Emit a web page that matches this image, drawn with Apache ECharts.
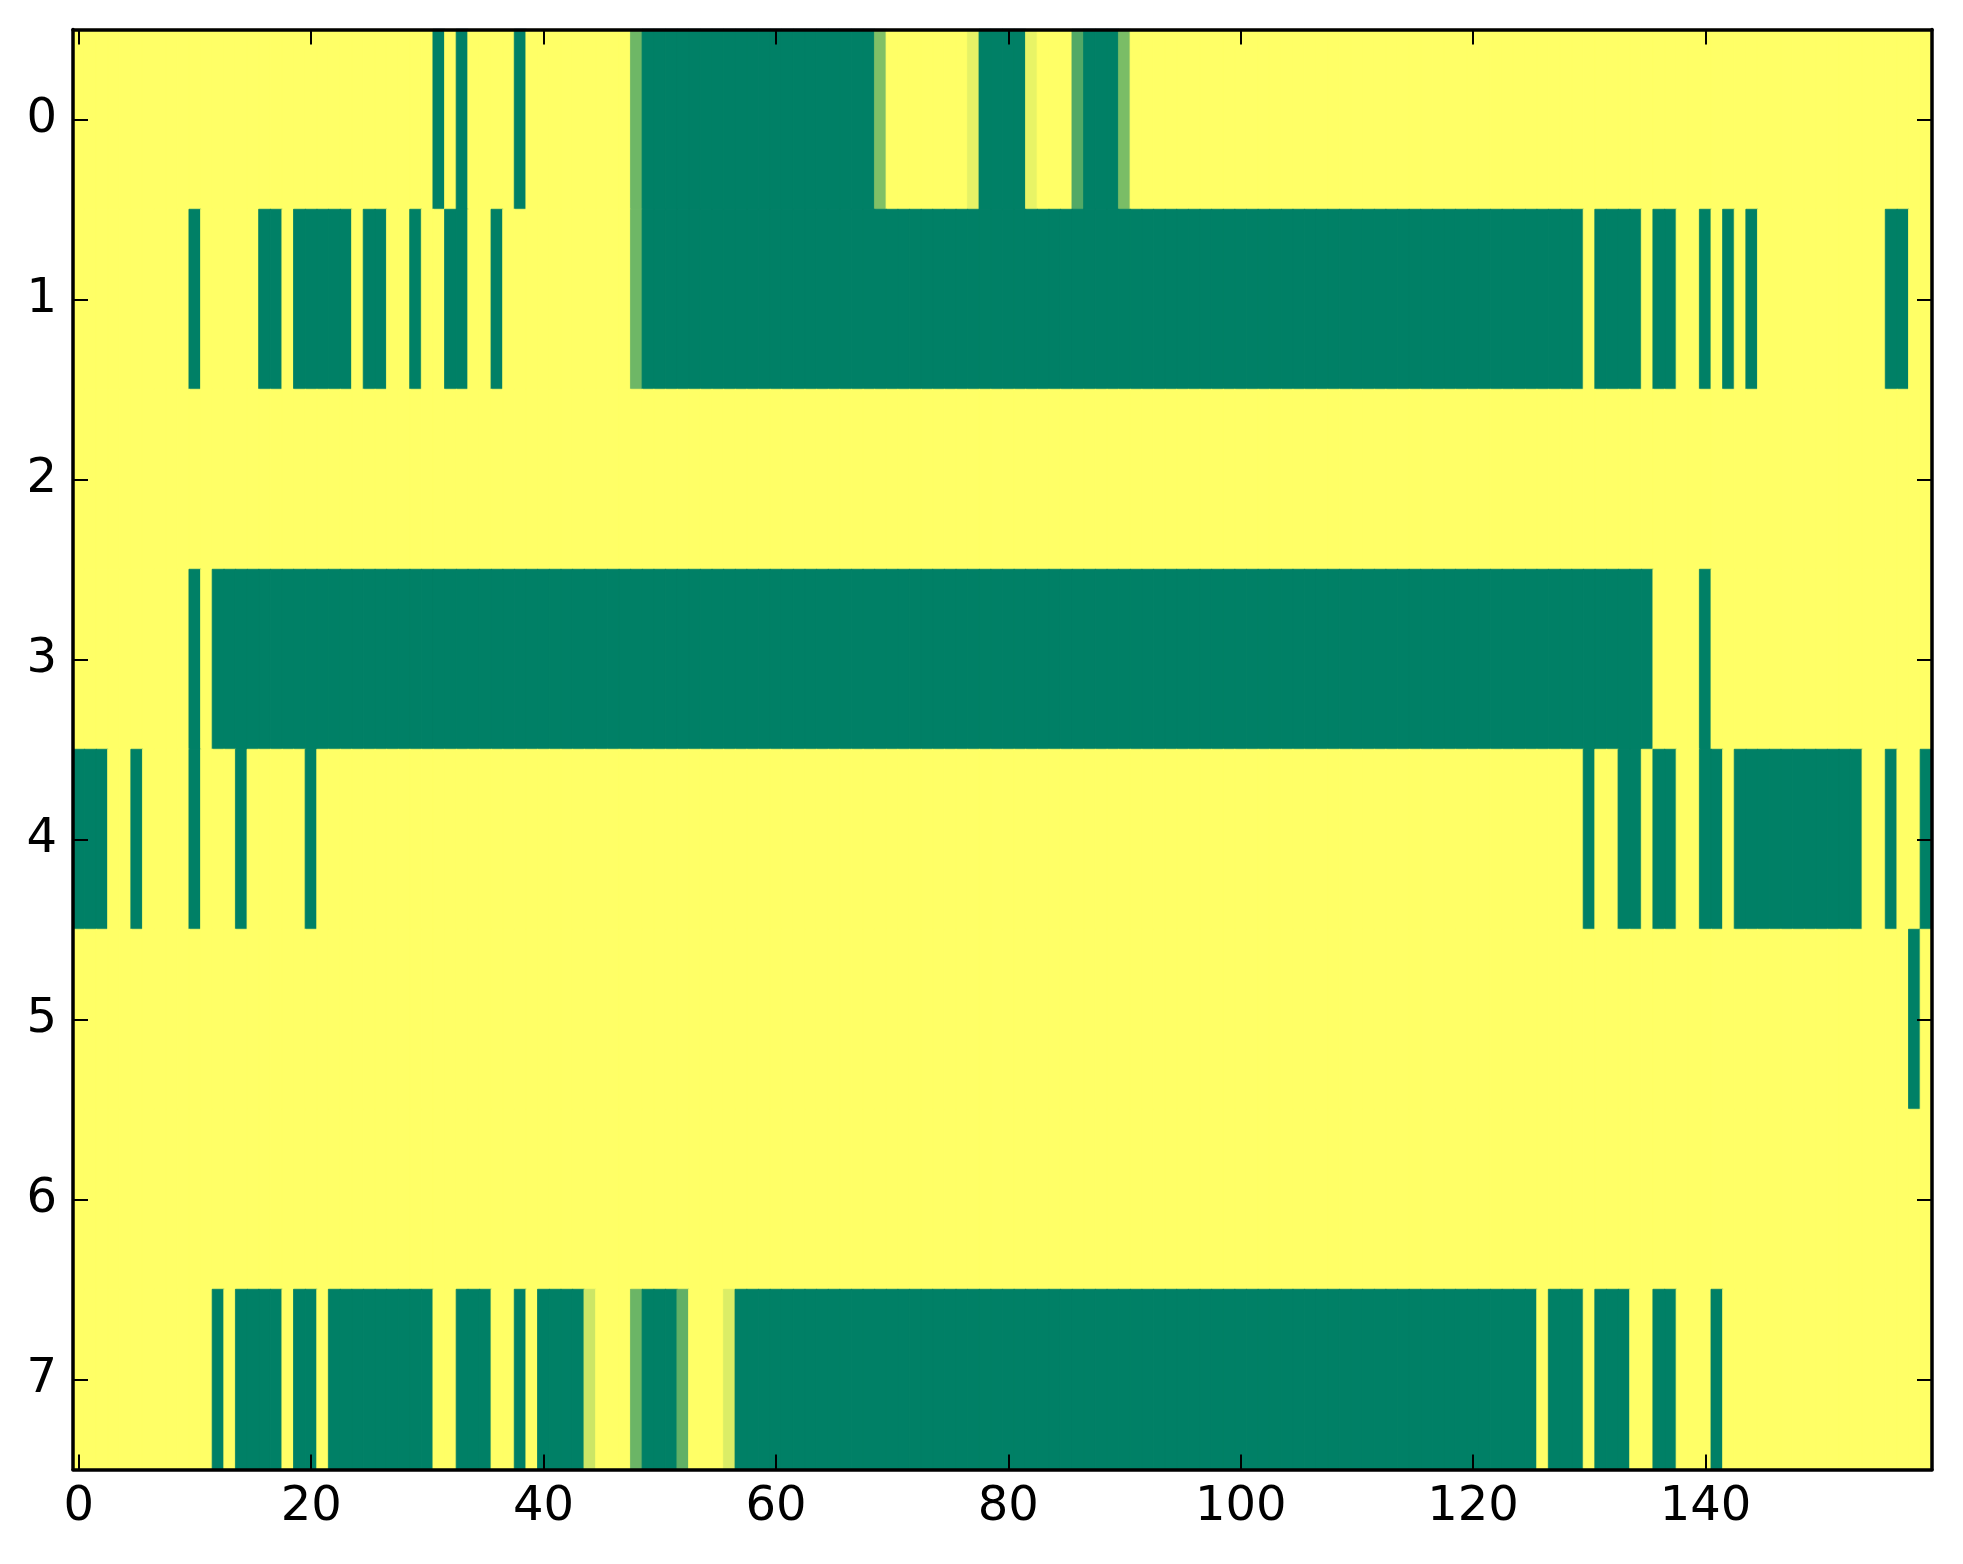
<!DOCTYPE html>
<html>
<head>
<meta charset="utf-8">
<script src="https://cdn.jsdelivr.net/npm/echarts@6/dist/echarts.min.js"></script>
<style>
html,body{margin:0;padding:0;background:#fff;}
#chart{width:1963px;height:1564px;}
</style>
</head>
<body>
<div id="chart"></div>
<script>
// Column indices 0..159 and row indices 0..7
var xTickLabels = [0, 20, 40, 60, 80, 100, 120, 140];
var yTickLabels = [0, 1, 2, 3, 4, 5, 6, 7];

// Cell values per row (1 = yellow, 0 = green), 160 columns each
var row0 = [
1,1,1,1,1,1,1,1,1,1, 1,1,1,1,1,1,1,1,1,1,
1,1,1,1,1,1,1,1,1,1, 1,0,1,0,1,1,1,1,0,1,
1,1,1,1,1,1,1,1,0.43,0, 0,0,0,0,0,0,0,0,0,0,
0,0,0,0,0,0,0,0,0,0.5, 1,1,1,1,1,1,1,0.9,0,0,
0,0,0.91,1,1,1,0.32,0,0,0, 0.48,1,1,1,1,1,1,1,1,1,
1,1,1,1,1,1,1,1,1,1, 1,1,1,1,1,1,1,1,1,1,
1,1,1,1,1,1,1,1,1,1, 1,1,1,1,1,1,1,1,1,1,
1,1,1,1,1,1,1,1,1,1, 1,1,1,1,1,1,1,1,1,1
];
var row1 = [
1,1,1,1,1,1,1,1,1,1, 0,1,1,1,1,1,0,0,1,0,
0,0,0,0,1,0,0,1,1,0, 1,1,0,0,1,1,0,1,1,1,
1,1,1,1,1,1,1,1,0.43,0, 0,0,0,0,0,0,0,0,0,0,
0,0,0,0,0,0,0,0,0,0, 0,0,0,0,0,0,0,0,0,0,
0,0,0,0,0,0,0,0,0,0, 0,0,0,0,0,0,0,0,0,0,
0,0,0,0,0,0,0,0,0,0, 0,0,0,0,0,0,0,0,0,0,
0,0,0,0,0,0,0,0,0,0, 1,0,0,0,0,1,0,0,1,1,
0,1,0,1,0,1,1,1,1,1, 1,1,1,1,1,1,0,0,1,1
];
var row2 = [
1,1,1,1,1,1,1,1,1,1, 1,1,1,1,1,1,1,1,1,1,
1,1,1,1,1,1,1,1,1,1, 1,1,1,1,1,1,1,1,1,1,
1,1,1,1,1,1,1,1,1,1, 1,1,1,1,1,1,1,1,1,1,
1,1,1,1,1,1,1,1,1,1, 1,1,1,1,1,1,1,1,1,1,
1,1,1,1,1,1,1,1,1,1, 1,1,1,1,1,1,1,1,1,1,
1,1,1,1,1,1,1,1,1,1, 1,1,1,1,1,1,1,1,1,1,
1,1,1,1,1,1,1,1,1,1, 1,1,1,1,1,1,1,1,1,1,
1,1,1,1,1,1,1,1,1,1, 1,1,1,1,1,1,1,1,1,1
];
var row3 = [
1,1,1,1,1,1,1,1,1,1, 0,1,0,0,0,0,0,0,0,0,
0,0,0,0,0,0,0,0,0,0, 0,0,0,0,0,0,0,0,0,0,
0,0,0,0,0,0,0,0,0,0, 0,0,0,0,0,0,0,0,0,0,
0,0,0,0,0,0,0,0,0,0, 0,0,0,0,0,0,0,0,0,0,
0,0,0,0,0,0,0,0,0,0, 0,0,0,0,0,0,0,0,0,0,
0,0,0,0,0,0,0,0,0,0, 0,0,0,0,0,0,0,0,0,0,
0,0,0,0,0,0,0,0,0,0, 0,0,0,0,0,0,1,1,1,1,
0,1,1,1,1,1,1,1,1,1, 1,1,1,1,1,1,1,1,1,1
];
var row4 = [
0,0,0,1,1,0,1,1,1,1, 0,1,1,1,0,1,1,1,1,1,
0,1,1,1,1,1,1,1,1,1, 1,1,1,1,1,1,1,1,1,1,
1,1,1,1,1,1,1,1,1,1, 1,1,1,1,1,1,1,1,1,1,
1,1,1,1,1,1,1,1,1,1, 1,1,1,1,1,1,1,1,1,1,
1,1,1,1,1,1,1,1,1,1, 1,1,1,1,1,1,1,1,1,1,
1,1,1,1,1,1,1,1,1,1, 1,1,1,1,1,1,1,1,1,1,
1,1,1,1,1,1,1,1,1,1, 0,1,1,0,0,1,0,0,1,1,
0,0,1,0,0,0,0,0,0,0, 0,0,0,0,1,1,0,1,1,0
];
var row5 = [
1,1,1,1,1,1,1,1,1,1, 1,1,1,1,1,1,1,1,1,1,
1,1,1,1,1,1,1,1,1,1, 1,1,1,1,1,1,1,1,1,1,
1,1,1,1,1,1,1,1,1,1, 1,1,1,1,1,1,1,1,1,1,
1,1,1,1,1,1,1,1,1,1, 1,1,1,1,1,1,1,1,1,1,
1,1,1,1,1,1,1,1,1,1, 1,1,1,1,1,1,1,1,1,1,
1,1,1,1,1,1,1,1,1,1, 1,1,1,1,1,1,1,1,1,1,
1,1,1,1,1,1,1,1,1,1, 1,1,1,1,1,1,1,1,1,1,
1,1,1,1,1,1,1,1,1,1, 1,1,1,1,1,1,1,1,0,1
];
var row6 = [
1,1,1,1,1,1,1,1,1,1, 1,1,1,1,1,1,1,1,1,1,
1,1,1,1,1,1,1,1,1,1, 1,1,1,1,1,1,1,1,1,1,
1,1,1,1,1,1,1,1,1,1, 1,1,1,1,1,1,1,1,1,1,
1,1,1,1,1,1,1,1,1,1, 1,1,1,1,1,1,1,1,1,1,
1,1,1,1,1,1,1,1,1,1, 1,1,1,1,1,1,1,1,1,1,
1,1,1,1,1,1,1,1,1,1, 1,1,1,1,1,1,1,1,1,1,
1,1,1,1,1,1,1,1,1,1, 1,1,1,1,1,1,1,1,1,1,
1,1,1,1,1,1,1,1,1,1, 1,1,1,1,1,1,1,1,1,1
];
var row7 = [
1,1,1,1,1,1,1,1,1,1, 1,1,0,1,0,0,0,0,1,0,
0,1,0,0,0,0,0,0,0,0, 0,1,1,0,0,0,1,1,0,1,
0,0,0,0,0.8,1,1,1,0.42,0, 0,0,0.38,1,1,1,0.86,0,0,0,
0,0,0,0,0,0,0,0,0,0, 0,0,0,0,0,0,0,0,0,0,
0,0,0,0,0,0,0,0,0,0, 0,0,0,0,0,0,0,0,0,0,
0,0,0,0,0,0,0,0,0,0, 0,0,0,0,0,0,0,0,0,0,
0,0,0,0,0,0,1,0,0,0, 1,0,0,0,1,1,0,0,1,1,
1,0,1,1,1,1,1,1,1,1, 1,1,1,1,1,1,1,1,1,1
];

var rows = [row0, row1, row2, row3, row4, row5, row6, row7];
var nCols = row0.length;
var xCategories = [];
for (var i = 0; i < nCols; i++) xCategories.push(String(i));
var yCategories = yTickLabels.map(String);

var COLORS = ['#008066', '#ffff66'];
var data = [];
rows.forEach(function (row, r) {
  row.forEach(function (v, c) {
    data.push({
      value: [c, r, v],
      itemStyle: { borderColor: echarts.color.lerp(v, COLORS), borderWidth: 0.8 }
    });
  });
});

function xShow(index) { return xTickLabels.indexOf(index) >= 0; }

var FONT = 'DejaVu Sans';
var lineStyle = { color: '#000', width: 3.5 };
var tickStyle = { color: '#000', width: 2 };

var chart = echarts.init(document.getElementById('chart'), null, { renderer: 'canvas' });
chart.setOption({
  animation: false,
  backgroundColor: '#ffffff',
  grid: { left: 73, right: 31, top: 29.5, bottom: 94.5, containLabel: false },
  xAxis: [
    {
      type: 'category', data: xCategories, position: 'bottom', z: 10,
      axisLine: { show: true, lineStyle: lineStyle },
      axisTick: { show: true, inside: true, length: 15, alignWithLabel: true, interval: xShow, lineStyle: tickStyle },
      axisLabel: { show: true, interval: xShow, margin: 14, color: '#000', fontFamily: FONT, fontSize: 48 },
      splitLine: { show: false }
    },
    {
      type: 'category', data: xCategories, position: 'top', z: 10,
      axisLine: { show: true, lineStyle: lineStyle },
      axisTick: { show: true, inside: true, length: 15, alignWithLabel: true, interval: xShow, lineStyle: tickStyle },
      axisLabel: { show: false },
      splitLine: { show: false }
    }
  ],
  yAxis: [
    {
      type: 'category', data: yCategories, inverse: true, position: 'left', z: 10,
      axisLine: { show: true, lineStyle: lineStyle },
      axisTick: { show: true, inside: true, length: 15, alignWithLabel: true, interval: 0, lineStyle: tickStyle },
      axisLabel: { show: true, interval: 0, margin: 16, color: '#000', fontFamily: FONT, fontSize: 48 },
      splitLine: { show: false }
    },
    {
      type: 'category', data: yCategories, inverse: true, position: 'right', z: 10,
      axisLine: { show: true, lineStyle: lineStyle },
      axisTick: { show: true, inside: true, length: 15, alignWithLabel: true, interval: 0, lineStyle: tickStyle },
      axisLabel: { show: false },
      splitLine: { show: false }
    }
  ],
  visualMap: {
    show: false, type: 'continuous', min: 0, max: 1, dimension: 2,
    inRange: { color: COLORS }
  },
  series: [{
    type: 'heatmap', xAxisIndex: 0, yAxisIndex: 0,
    data: data,
    emphasis: { disabled: true },
    z: 1
  }]
});
</script>
</body>
</html>
